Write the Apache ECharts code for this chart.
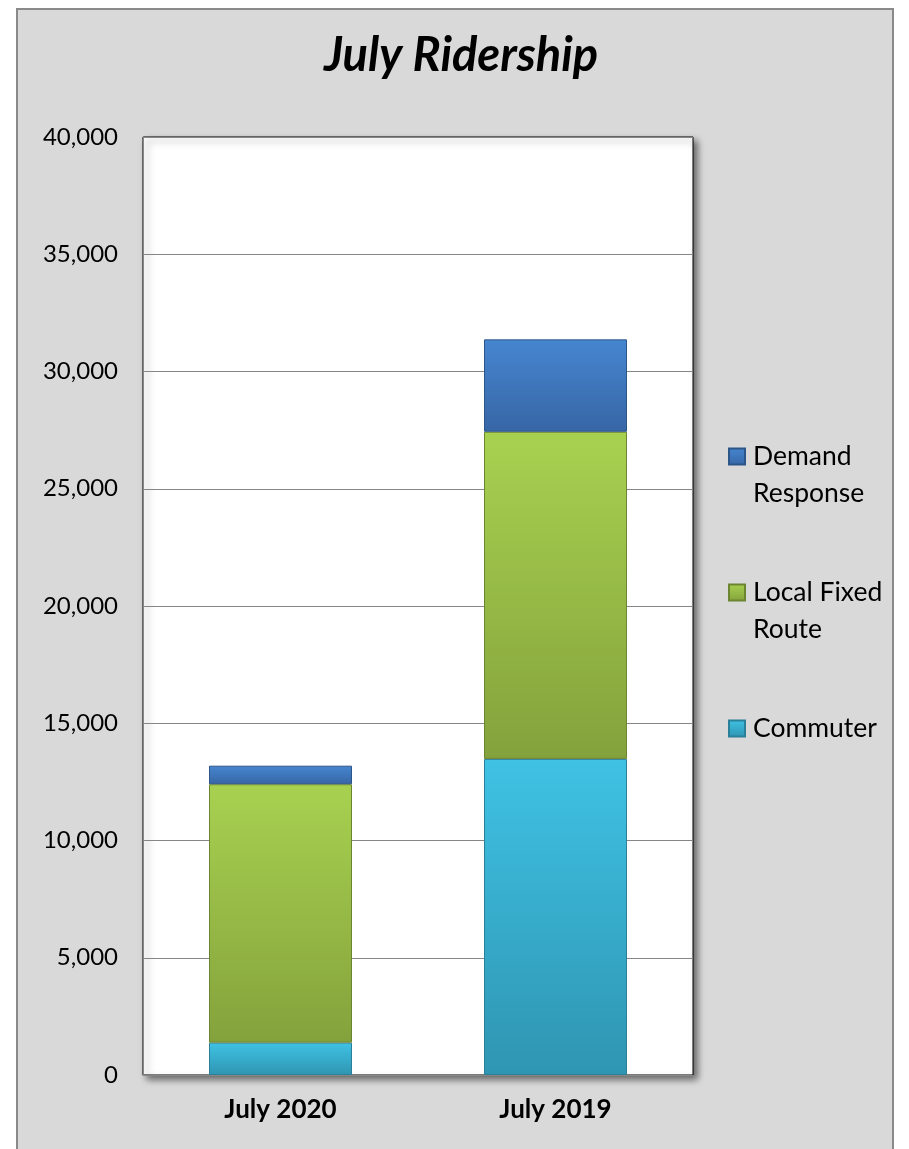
<!DOCTYPE html>
<html>
<head>
<meta charset="utf-8">
<script src="https://cdn.jsdelivr.net/npm/echarts@6/dist/echarts.min.js"></script>
<style>
html,body{margin:0;padding:0;background:#ffffff;}
#frame{position:absolute;left:16px;top:8px;width:874px;height:1200px;border:2px solid #8a8a8a;background:#d9d9d9;}
#chart{position:absolute;left:0;top:0;width:909px;height:1149px;}
</style>
</head>
<body>
<div id="frame"></div>
<div id="chart"></div>
<script>
var categories = ['July 2020', 'July 2019'];
var commuter = [1380, 13480];
var localFixedRoute = [11020, 13950];
var demandResponse = [790, 3940];
var yTicks = { min: 0, max: 40000, interval: 5000 };
var legendNames = {
  'Demand Response': '\nDemand\nResponse',
  'Local Fixed Route': '\nLocal Fixed\nRoute',
  'Commuter': '\nCommuter\n'
};

var FONT = 'Lato, "Open Sans", sans-serif';
function grad(top, bottom) {
  return new echarts.graphic.LinearGradient(0, 0, 0, 1, [
    { offset: 0, color: top },
    { offset: 1, color: bottom }
  ]);
}

var chart = echarts.init(document.getElementById('chart'), null, { renderer: 'canvas' });
chart.setOption({
  backgroundColor: 'transparent',
  animation: false,
  textStyle: { fontFamily: FONT },
  title: {
    text: 'July Ridership',
    left: 456,
    textAlign: 'center',
    top: 27,
    textStyle: { fontFamily: FONT, fontSize: 47, fontWeight: 'bold', fontStyle: 'italic', color: '#000' }
  },
  legend: {
    orient: 'vertical',
    left: 728,
    top: 401,
    padding: 0,
    itemGap: 25,
    itemWidth: 16,
    itemHeight: 16,
    icon: 'rect',
    formatter: function (n) { return legendNames[n] || n; },
    textStyle: { fontFamily: FONT, fontSize: 26.5, lineHeight: 37, color: '#000', padding: [0, 0, 0, 3] },
    data: ['Demand Response', 'Local Fixed Route', 'Commuter']
  },
  grid: {
    left: 143, right: 216, top: 137, bottom: 74,
    show: true,
    backgroundColor: '#ffffff',
    borderColor: '#000000',
    borderWidth: 1,
    shadowColor: 'rgba(0,0,0,0.55)',
    shadowBlur: 7,
    shadowOffsetX: 4,
    shadowOffsetY: 4
  },
  xAxis: {
    type: 'category',
    data: categories,
    axisLine: { show: true, lineStyle: { color: '#868686', width: 1 } },
    axisTick: { show: false },
    axisLabel: { margin: 22, fontFamily: FONT, fontSize: 26, fontWeight: 'bold', color: '#000' }
  },
  yAxis: {
    type: 'value',
    min: yTicks.min, max: yTicks.max, interval: yTicks.interval,
    axisLine: { show: true, lineStyle: { color: '#868686', width: 1 } },
    axisTick: { show: false },
    splitLine: { lineStyle: { color: '#868686', width: 1 } },
    axisLabel: {
      margin: 25, fontFamily: FONT, fontSize: 24, color: '#000',
      formatter: function (v) { return v.toLocaleString('en-US'); }
    }
  },
  series: [
    {
      name: 'Commuter', type: 'bar', stack: 'total', data: commuter,
      barCategoryGap: '48%',
      itemStyle: { color: grad('#3fc2e4', '#2f95b2'), borderColor: '#2a7f99', borderWidth: 1 }
    },
    {
      name: 'Local Fixed Route', type: 'bar', stack: 'total', data: localFixedRoute,
      barCategoryGap: '48%',
      itemStyle: { color: grad('#a8d150', '#84a23c'), borderColor: '#6c8530', borderWidth: 1 }
    },
    {
      name: 'Demand Response', type: 'bar', stack: 'total', data: demandResponse,
      barCategoryGap: '48%',
      itemStyle: { color: grad('#4686d0', '#3766a6'), borderColor: '#2d5688', borderWidth: 1 }
    }
  ]
});
</script>
</body>
</html>
